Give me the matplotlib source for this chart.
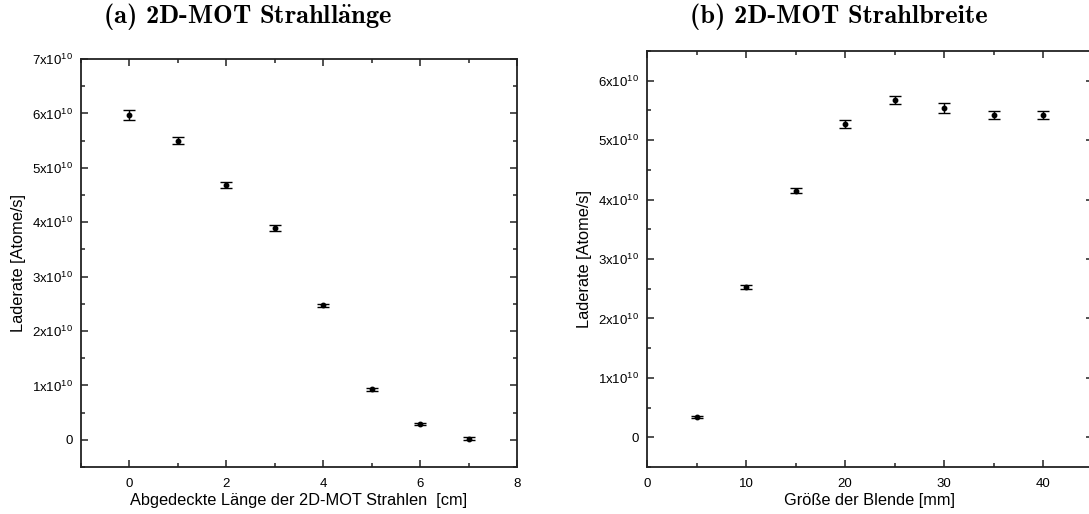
import matplotlib
matplotlib.use("Agg")
import matplotlib.pyplot as plt
from matplotlib.ticker import MultipleLocator

plt.rcParams['font.family'] = ['Liberation Sans', 'DejaVu Sans']
plt.rcParams['mathtext.fontset'] = 'custom'
plt.rcParams['mathtext.rm'] = 'Liberation Sans'
plt.rcParams['mathtext.it'] = 'Liberation Sans'

# Panel (a): beam length
len_cm = [0, 1, 2, 3, 4, 5, 6, 7]
rate_a = [5.97e10, 5.50e10, 4.68e10, 3.89e10, 2.47e10, 0.93e10, 0.29e10, 0.02e10]
err_a = [0.10e10, 0.07e10, 0.06e10, 0.05e10, 0.025e10, 0.025e10, 0.025e10, 0.025e10]

# Panel (b): aperture size
aperture_mm = [5, 10, 15, 20, 25, 30, 35, 40]
rate_b = [0.34e10, 2.53e10, 4.15e10, 5.27e10, 5.67e10, 5.54e10, 5.42e10, 5.42e10]
err_b = [0.02e10, 0.035e10, 0.04e10, 0.07e10, 0.07e10, 0.08e10, 0.07e10, 0.07e10]

yticks_a = [0, 1e10, 2e10, 3e10, 4e10, 5e10, 6e10, 7e10]
yticks_b = [0, 1e10, 2e10, 3e10, 4e10, 5e10, 6e10]

title_a = r'(a) 2D-MOT Strahll$\mathbf{\ddot{a}}$nge'
title_b = '(b) 2D-MOT Strahlbreite'

def ylab(v):
    n = int(round(v / 1e10))
    return '0' if n == 0 else r'%dx10$^{\mathregular{10}}$' % n

W, H = 1089, 514
fig = plt.figure(figsize=(W / 100, H / 100), dpi=100)

def px_axes(l, r, t, b):
    return fig.add_axes([l / W, 1 - b / H, (r - l) / W, (b - t) / H])

ax1 = px_axes(81, 517, 59, 467)
ax2 = px_axes(647, 1092.5, 51, 467)

def style(ax, yticks, xmaj, xmin):
    for s in ax.spines.values():
        s.set_linewidth(1.3)
        s.set_color('#222222')
    ax.set_yticks(yticks)
    ax.set_yticklabels([ylab(v) for v in yticks])
    ax.yaxis.set_minor_locator(MultipleLocator(0.5e10))
    ax.xaxis.set_major_locator(MultipleLocator(xmaj))
    ax.xaxis.set_minor_locator(MultipleLocator(xmin))
    ax.tick_params(which='both', direction='in', top=True, right=True,
                   labelsize=9.5, color='#222222', width=1.1)
    ax.tick_params(axis='x', pad=8)
    ax.tick_params(axis='y', pad=6)
    ax.tick_params(which='major', length=5)
    ax.tick_params(which='minor', length=3)

ekw = dict(fmt='o', color='black', ms=3.2, elinewidth=1.0, capsize=4, capthick=1.0)

ax1.errorbar(len_cm, rate_a, yerr=err_a, **ekw)
ax1.set_xlim(-1, 8)
ax1.set_ylim(-0.5e10, 7e10)
style(ax1, yticks_a, 2, 1)
ax1.set_xlabel('Abgedeckte Länge der 2D-MOT Strahlen  [cm]', fontsize=11.8, labelpad=2)
ax1.set_ylabel('Laderate [Atome/s]', fontsize=11.8, labelpad=4)

ax2.errorbar(aperture_mm, rate_b, yerr=err_b, **ekw)
ax2.set_xlim(0, 45)
ax2.set_ylim(-0.5e10, 6.5e10)
style(ax2, yticks_b, 10, 5)
ax2.set_xlabel('Größe der Blende [mm]', fontsize=11.8, labelpad=2)
ax2.set_ylabel('Laderate [Atome/s]', fontsize=11.8, labelpad=4)

fig.text(247 / W, 1 - 17 / H, title_a, family='cmb10', math_fontfamily='cm',
         fontsize=19, ha='center', va='center')
fig.text(839 / W, 1 - 17 / H, title_b, family='cmb10',
         fontsize=19, ha='center', va='center')

fig.savefig('out.png', dpi=100)
